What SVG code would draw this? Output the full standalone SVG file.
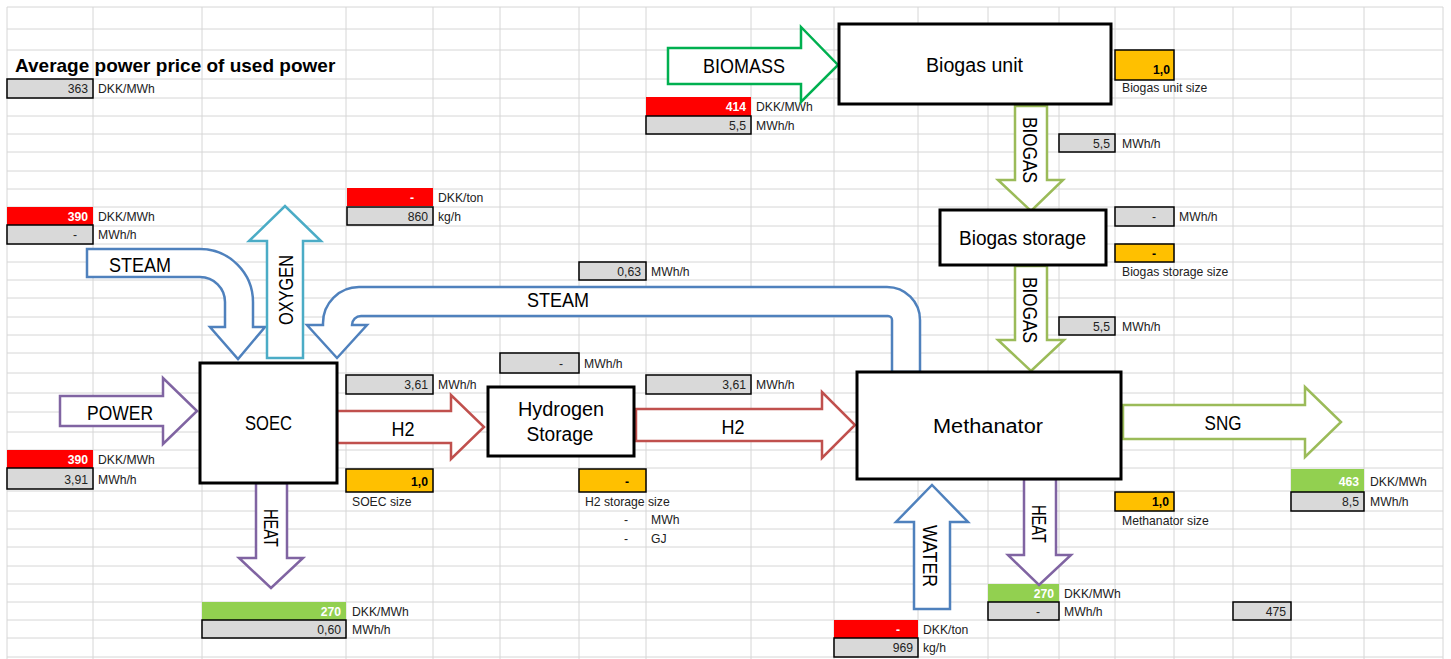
<svg xmlns="http://www.w3.org/2000/svg" width="1451" height="659" viewBox="0 0 1451 659">
  <style>
    text { font-family: "Liberation Sans", Arial, sans-serif; fill: #000; }
    .grid { stroke: #d6d6d6; stroke-width: 1; fill: none; }
    .title { font-size: 19px; font-weight: bold; }
    .node { fill: #fff; stroke: #000; stroke-width: 3; }
    .lbl { font-size: 20px; text-anchor: middle; }
    .arr { fill: #fff; stroke-width: 2.5; stroke-linejoin: miter; }
    .purple { stroke: #8064a2; }
    .red { stroke: #c0504d; }
    .blue { stroke: #4f81bd; }
    .teal { stroke: #4bacc6; }
    .green { stroke: #00b050; }
    .lime { stroke: #9bbb59; }
    .c-gray { fill: #d9d9d9; stroke: #000; stroke-width: 1.5; }
    .c-yel { fill: #ffc000; stroke: #000; stroke-width: 1.5; }
    .c-red { fill: #ff0000; }
    .c-grn { fill: #92d050; }
    .v { font-size: 12.2px; text-anchor: end; fill: #222; }
    .vw { font-size: 12.2px; text-anchor: end; fill: #fff; font-weight: bold; }
    .vb { font-size: 12.2px; text-anchor: end; fill: #000; font-weight: bold; }
    .u { font-size: 12.2px; fill: #222; }
  </style>

  <rect width="1451" height="659" fill="#fff"/>

  <!-- spreadsheet grid -->
  <path class="grid" d="
    M7,7 H1443 M7,29 H1443 M7,50 H1443 M7,79 H1443 M7,98 H1443 M7,116 H1443 M7,134 H1443
    M7,152 H1443 M7,171 H1443 M7,189 H1443 M7,207 H1443 M7,226 H1443 M7,244 H1443 M7,262 H1443
    M7,280 H1443 M7,298 H1443 M7,317 H1443 M7,335 H1443 M7,353 H1443 M7,373 H1443 M7,393 H1443
    M7,412 H1443 M7,432 H1443 M7,450 H1443 M7,468 H1443 M7,491 H1443 M7,511 H1443 M7,529 H1443
    M7,547 H1443 M7,566 H1443 M7,584 H1443 M7,602 H1443 M7,620 H1443 M7,638 H1443 M7,657 H1443
    M7,7 V659 M93,7 V659 M202,7 V659 M346,7 V659 M433,7 V659 M500,7 V659 M579,7 V659
    M646,7 V659 M751,7 V659 M834,7 V659 M918,7 V659 M988,7 V659 M1059,7 V659 M1115,7 V659
    M1174,7 V659 M1233,7 V659 M1291,7 V659 M1364,7 V659 M1443,7 V659"/>

  <text class="title" x="15" y="72">Average power price of used power</text>

  <!-- data cells -->
  <g id="cells">
    <rect class="c-gray" x="7" y="79" width="86" height="19"/>
    <text class="v" x="88" y="93">363</text><text class="u" x="98" y="93">DKK/MWh</text>

    <rect class="c-red" x="7" y="207" width="86" height="18"/>
    <text class="vw" x="88" y="221">390</text><text class="u" x="98" y="221">DKK/MWh</text>
    <rect class="c-gray" x="7" y="225" width="86" height="19"/>
    <text class="v" x="77" y="239">-</text><text class="u" x="98" y="239">MWh/h</text>

    <rect class="c-red" x="7" y="450" width="86" height="18"/>
    <text class="vw" x="88" y="464">390</text><text class="u" x="98" y="464">DKK/MWh</text>
    <rect class="c-gray" x="7" y="468" width="86" height="21"/>
    <text class="v" x="88" y="484">3,91</text><text class="u" x="98" y="484">MWh/h</text>

    <rect class="c-red" x="347" y="188" width="86" height="18"/>
    <text class="vw" x="414" y="202">-</text><text class="u" x="438" y="202">DKK/ton</text>
    <rect class="c-gray" x="347" y="207" width="86" height="18"/>
    <text class="v" x="428" y="221">860</text><text class="u" x="438" y="221">kg/h</text>

    <rect class="c-gray" x="579" y="262" width="67" height="18"/>
    <text class="v" x="641" y="276">0,63</text><text class="u" x="651" y="276">MWh/h</text>

    <rect class="c-gray" x="500" y="353" width="79" height="20"/>
    <text class="v" x="563" y="368">-</text><text class="u" x="584" y="368">MWh/h</text>

    <rect class="c-gray" x="346" y="375" width="87" height="19"/>
    <text class="v" x="428" y="389">3,61</text><text class="u" x="438" y="389">MWh/h</text>

    <rect class="c-gray" x="646" y="375" width="105" height="19"/>
    <text class="v" x="746" y="389">3,61</text><text class="u" x="756" y="389">MWh/h</text>

    <rect class="c-yel" x="346" y="469" width="87" height="23"/>
    <text class="vb" x="428" y="486">1,0</text><text class="u" x="352" y="506">SOEC size</text>

    <rect class="c-yel" x="579" y="469" width="67" height="23"/>
    <text class="vb" x="629" y="486">-</text><text class="u" x="585" y="506">H2 storage size</text>
    <text class="v" x="628" y="524">-</text><text class="u" x="651" y="524">MWh</text>
    <text class="v" x="628" y="543">-</text><text class="u" x="651" y="543">GJ</text>

    <rect class="c-grn" x="202" y="602" width="144" height="18"/>
    <text class="vw" x="341" y="616">270</text><text class="u" x="352" y="616">DKK/MWh</text>
    <rect class="c-gray" x="202" y="620" width="144" height="18"/>
    <text class="v" x="341" y="634">0,60</text><text class="u" x="352" y="634">MWh/h</text>

    <rect class="c-red" x="646" y="97" width="105" height="19"/>
    <text class="vw" x="746" y="111">414</text><text class="u" x="756" y="111">DKK/MWh</text>
    <rect class="c-gray" x="646" y="116" width="105" height="18"/>
    <text class="v" x="746" y="130">5,5</text><text class="u" x="756" y="130">MWh/h</text>

    <rect class="c-yel" x="1115" y="50" width="59" height="30"/>
    <text class="vb" x="1170" y="74">1,0</text><text class="u" x="1122" y="92">Biogas unit size</text>

    <rect class="c-gray" x="1059" y="134" width="56" height="18"/>
    <text class="v" x="1110" y="148">5,5</text><text class="u" x="1122" y="148">MWh/h</text>

    <rect class="c-gray" x="1115" y="207" width="59" height="19"/>
    <text class="v" x="1156" y="221">-</text><text class="u" x="1179" y="221">MWh/h</text>

    <rect class="c-yel" x="1115" y="244" width="59" height="18"/>
    <text class="vb" x="1156" y="258">-</text><text class="u" x="1122" y="276">Biogas storage size</text>

    <rect class="c-gray" x="1059" y="317" width="56" height="18"/>
    <text class="v" x="1110" y="331">5,5</text><text class="u" x="1122" y="331">MWh/h</text>

    <rect class="c-yel" x="1115" y="492" width="59" height="19"/>
    <text class="vb" x="1169" y="506">1,0</text><text class="u" x="1122" y="525">Methanator size</text>

    <rect class="c-grn" x="1291" y="469" width="73" height="23"/>
    <text class="vw" x="1359" y="486">463</text><text class="u" x="1370" y="486">DKK/MWh</text>
    <rect class="c-gray" x="1291" y="492" width="73" height="19"/>
    <text class="v" x="1359" y="506">8,5</text><text class="u" x="1370" y="506">MWh/h</text>

    <rect class="c-grn" x="988" y="584" width="71" height="18"/>
    <text class="vw" x="1054" y="598">270</text><text class="u" x="1064" y="598">DKK/MWh</text>
    <rect class="c-gray" x="988" y="602" width="71" height="18"/>
    <text class="v" x="1040" y="616">-</text><text class="u" x="1064" y="616">MWh/h</text>

    <rect class="c-gray" x="1233" y="602" width="58" height="18"/>
    <text class="v" x="1286" y="616">475</text>

    <rect class="c-red" x="834" y="620" width="84" height="18"/>
    <text class="vw" x="900" y="634">-</text><text class="u" x="923" y="634">DKK/ton</text>
    <rect class="c-gray" x="834" y="638" width="84" height="19"/>
    <text class="v" x="913" y="652">969</text><text class="u" x="923" y="652">kg/h</text>
  </g>

  <!-- flow arrows -->
  <g id="connectors">
    <path class="arr purple" d="M60,396 H163 V378 L197,411 L163,444 V426 H60 Z"/>
    <text class="lbl" x="120" y="420" textLength="66" lengthAdjust="spacingAndGlyphs">POWER</text>

    <path class="arr blue" d="M87,249 H200 A53,53 0 0 1 253,302 V327 H265 L238,359 L210,327 H225 V302 A25,25 0 0 0 200,277 H87 Z"/>
    <text class="lbl" x="140" y="272" textLength="62" lengthAdjust="spacingAndGlyphs">STEAM</text>

    <path class="arr teal" d="M267,358 V241 H249 L285,206 L321,241 H303 V358 Z"/>
    <text class="lbl" transform="translate(293,290) rotate(-90)" textLength="70" lengthAdjust="spacingAndGlyphs">OXYGEN</text>

    <path class="arr blue" d="M920,372 V320 A33,33 0 0 0 887,287 H359 A36,36 0 0 0 323,323 V325 H307 L337,358 L367,325 H352 A9,9 0 0 1 361,316 H888 A4,4 0 0 1 892,320 V372 Z"/>
    <text class="lbl" x="558" y="307" textLength="62" lengthAdjust="spacingAndGlyphs">STEAM</text>

    <path class="arr red" d="M337,411 H451 V395 L484,427 L451,459 V443 H337 Z"/>
    <text class="lbl" x="403" y="436" textLength="23" lengthAdjust="spacingAndGlyphs">H2</text>

    <path class="arr red" d="M636,409 H822 V392 L855,425 L822,458 V441 H636 Z"/>
    <text class="lbl" x="733" y="434" textLength="23" lengthAdjust="spacingAndGlyphs">H2</text>

    <path class="arr purple" d="M256,483 V558 H239 L271,588 L303,558 H287 V483 Z"/>
    <text class="lbl" transform="translate(264,528) rotate(90)" font-size="19" textLength="38" lengthAdjust="spacingAndGlyphs">HEAT</text>

    <path class="arr green" d="M668,48 H801 V27 L838,65 L801,102 V84 H668 Z"/>
    <text class="lbl" x="744" y="73" textLength="82" lengthAdjust="spacingAndGlyphs">BIOMASS</text>

    <path class="arr lime" d="M1015,106 V180 H998 L1031,211 L1063,180 H1047 V106 Z"/>
    <text class="lbl" transform="translate(1023,150) rotate(90)" font-size="19" textLength="66" lengthAdjust="spacingAndGlyphs">BIOGAS</text>

    <path class="arr lime" d="M1015,266 V340 H998 L1031,371 L1064,340 H1047 V266 Z"/>
    <text class="lbl" transform="translate(1023,310) rotate(90)" font-size="19" textLength="66" lengthAdjust="spacingAndGlyphs">BIOGAS</text>

    <path class="arr lime" d="M1123,405 H1305 V387 L1341,422 L1305,457 V439 H1123 Z"/>
    <text class="lbl" x="1223" y="430" font-size="19" textLength="37" lengthAdjust="spacingAndGlyphs">SNG</text>

    <path class="arr blue" d="M914,609 V522 H896 L932,485 L968,522 H950 V609 Z"/>
    <text class="lbl" transform="translate(923,556) rotate(90)" textLength="62" lengthAdjust="spacingAndGlyphs">WATER</text>

    <path class="arr purple" d="M1024,479 V555 H1008 L1039,585 L1071,555 H1056 V479 Z"/>
    <text class="lbl" transform="translate(1032,524) rotate(90)" font-size="19" textLength="38" lengthAdjust="spacingAndGlyphs">HEAT</text>
  </g>

  <!-- process units -->
  <g id="soec">
    <rect class="node" x="200" y="363" width="137" height="120"/>
    <text class="lbl" x="268.5" y="430" textLength="47" lengthAdjust="spacingAndGlyphs">SOEC</text>
  </g>
  <g id="hydrogen-storage">
    <rect class="node" x="488" y="387" width="146" height="69"/>
    <text class="lbl" x="561" y="416" textLength="86" lengthAdjust="spacingAndGlyphs">Hydrogen</text>
    <text class="lbl" x="560" y="441" textLength="67" lengthAdjust="spacingAndGlyphs">Storage</text>
  </g>
  <g id="biogas-unit">
    <rect class="node" x="839" y="24" width="272" height="80"/>
    <text class="lbl" x="974.5" y="72" textLength="97" lengthAdjust="spacingAndGlyphs">Biogas unit</text>
  </g>
  <g id="biogas-storage">
    <rect class="node" x="940" y="210" width="166" height="55"/>
    <text class="lbl" x="1022.5" y="245" textLength="127" lengthAdjust="spacingAndGlyphs">Biogas storage</text>
  </g>
  <g id="methanator">
    <rect class="node" x="857" y="372" width="264" height="107"/>
    <text class="lbl" x="988" y="433" font-size="21" textLength="110" lengthAdjust="spacingAndGlyphs">Methanator</text>
  </g>
</svg>
